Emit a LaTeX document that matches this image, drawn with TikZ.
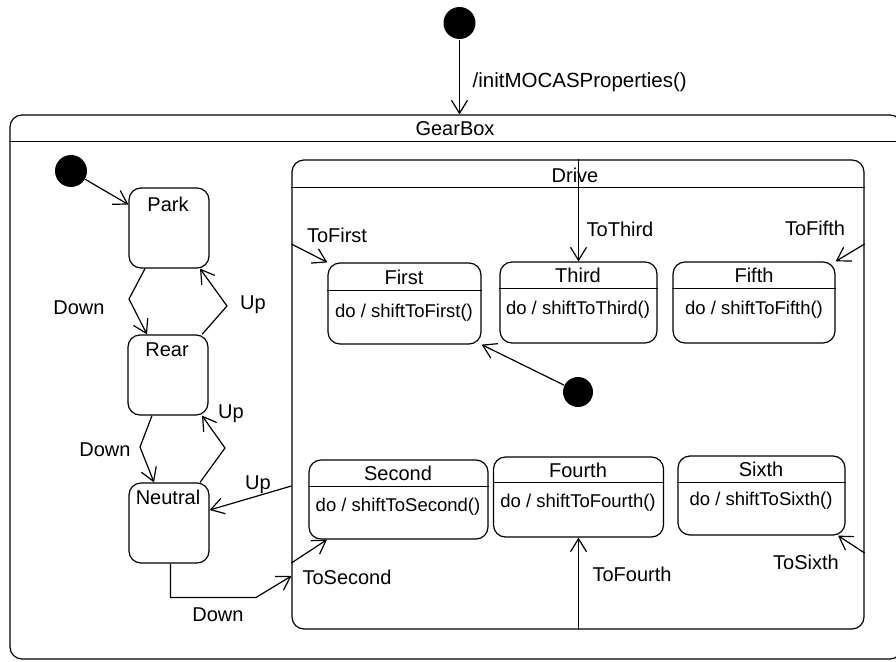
\documentclass[tikz,border=0pt]{standalone}
\usepackage{fontspec}
\setmainfont{Liberation Sans}
\usetikzlibrary{arrows.meta}
\begin{document}
\begin{tikzpicture}[x=1pt,y=-1pt,line width=1.2pt,
  lbl/.style={font=\fontsize{20}{24}\selectfont, inner sep=0pt},
  body/.style={font=\fontsize{18.5}{22}\selectfont, inner sep=0pt},
  st/.style={draw, rounded corners=12pt, inner sep=0pt},
  dot/.style={circle, fill=black, inner sep=0pt, minimum size=#1},
  arr/.style={-{Straight Barb[length=13pt,width=16pt]}}]
\useasboundingbox (0,0) rectangle (896,661);
% GearBox (cut by the picture's right edge)
\begin{scope}
\clip (0,0) rectangle (896,661);
\node[st, minimum width=892pt, minimum height=544pt] (gearbox) at (456,387) {};
\draw (gearbox.west |- 0,141.5) -- (gearbox.east |- 0,141.5);
\end{scope}
\node[lbl] (gearboxT) at (455,129) {GearBox};
% top initial state
\node[dot=32pt] (init0) at (459.5,23) {};
\draw[arr] (init0) -- (init0 |- gearbox.north);
\node[lbl, anchor=west, font=\fontsize{20.5}{24}\selectfont] (initL) at (472,82) {/initMOCASProperties()};
% left initial state and simple states
\node[dot=32pt] (init1) at (71,171) {};
\node[st, minimum width=80pt, minimum height=80pt] (park) at (169,228) {};
\node[st, minimum width=80pt, minimum height=80pt] (rear) at (168,375) {};
\node[st, minimum width=80pt, minimum height=80pt] (neutral) at (169,523) {};
\node[lbl] (parkT) at (168,204) {Park};
\node[lbl] (rearT) at (167,350) {Rear};
\node[lbl] (neutralT) at (168,497) {Neutral};
\draw[arr] (init1) -- (park.150);
% Drive composite state
\node[st, minimum width=572pt, minimum height=469pt] (drive) at (578,394.5) {};
\draw (drive.west |- 0,187.5) -- (drive.east |- 0,187.5);
\node[lbl] (driveT) at (575,175) {Drive};
% gear states
\node[st, minimum width=153pt, minimum height=81pt] (first) at (404.5,303.5) {};
\draw (first.west |- 0,290.5) -- (first.east |- 0,290.5);
\node[lbl] (firstT) at (404,277) {First};
\node[body] (firstB) at (404,313) {do / shiftToFirst()};
\node[st, minimum width=157pt, minimum height=81pt] (third) at (578.5,302.5) {};
\draw (third.west |- 0,288.5) -- (third.east |- 0,288.5);
\node[lbl] (thirdT) at (578,275) {Third};
\node[body] (thirdB) at (578,310) {do / shiftToThird()};
\node[st, minimum width=162pt, minimum height=81pt] (fifth) at (754,302.5) {};
\draw (fifth.west |- 0,288.5) -- (fifth.east |- 0,288.5);
\node[lbl] (fifthT) at (754,275) {Fifth};
\node[body] (fifthB) at (754,310) {do / shiftToFifth()};
\node[st, minimum width=179pt, minimum height=79pt] (second) at (398.5,499.5) {};
\draw (second.west |- 0,486.5) -- (second.east |- 0,486.5);
\node[lbl] (secondT) at (398,473) {Second};
\node[body] (secondB) at (398,507) {do / shiftToSecond()};
\node[st, minimum width=170pt, minimum height=80pt] (fourth) at (578.5,497) {};
\draw (fourth.west |- 0,482.5) -- (fourth.east |- 0,482.5);
\node[lbl] (fourthT) at (578,470) {Fourth};
\node[body] (fourthB) at (578,503) {do / shiftToFourth()};
\node[st, minimum width=167pt, minimum height=79pt] (sixth) at (761.5,495.5) {};
\draw (sixth.west |- 0,482.5) -- (sixth.east |- 0,482.5);
\node[lbl] (sixthT) at (761,469) {Sixth};
\node[body] (sixthB) at (761,501) {do / shiftToSixth()};
\node[dot=30pt] (init2) at (578,392) {};
\draw[arr] (init2) -- (first.south east);
% transitions between Park, Rear, Neutral
\draw[arr] (park.south -| 145,0) -- (129,299) -- (rear.north -| 147,0);
\node[lbl] (down1) at (79,308) {Down};
\draw[arr] (rear.north -| 202,0) -- (227,306) -- (park.south -| 200,0);
\node[lbl] (up1) at (253,305) {Up};
\draw[arr] (rear.south -| 152,0) -- (140,447) -- (neutral.north -| 154,0);
\node[lbl] (down2) at (105,450) {Down};
\draw[arr] (neutral.north -| 200,0) -- (225,448) -- (rear.south -| 202,0);
\node[lbl] (up2) at (231,414) {Up};
\draw[arr] (drive.west |- 0,486) -- (neutral.east |- 0,510);
\node[lbl] (up3) at (258,485) {Up};
\draw[arr] (neutral.south -| 170.5,0) |- (256,597.5) -- (drive.west |- 0,576);
\node[lbl] (down3) at (218,615) {Down};
% entry transitions into the gears
\draw[arr] (drive.west |- 0,244) -- (first.north west);
\node[lbl] (toFirst) at (337,235) {ToFirst};
\draw[arr] (drive.north -| third.north) -- (third.north);
\node[lbl] (toThird) at (620,229) {ToThird};
\draw[arr] (drive.east |- 0,244) -- (fifth.north east);
\node[lbl] (toFifth) at (815,228) {ToFifth};
\draw[arr] (drive.west |- 0,563) -- (second.south -| 327,0);
\node[lbl] (toSecond) at (347,577) {ToSecond};
\draw[arr] (drive.south -| fourth.south) -- (fourth.south);
\node[lbl] (toFourth) at (632,574) {ToFourth};
\draw[arr] (drive.east |- 0,553) -- (sixth.south -| 838,0);
\node[lbl] (toSixth) at (806,562) {ToSixth};
\end{tikzpicture}
\end{document}
